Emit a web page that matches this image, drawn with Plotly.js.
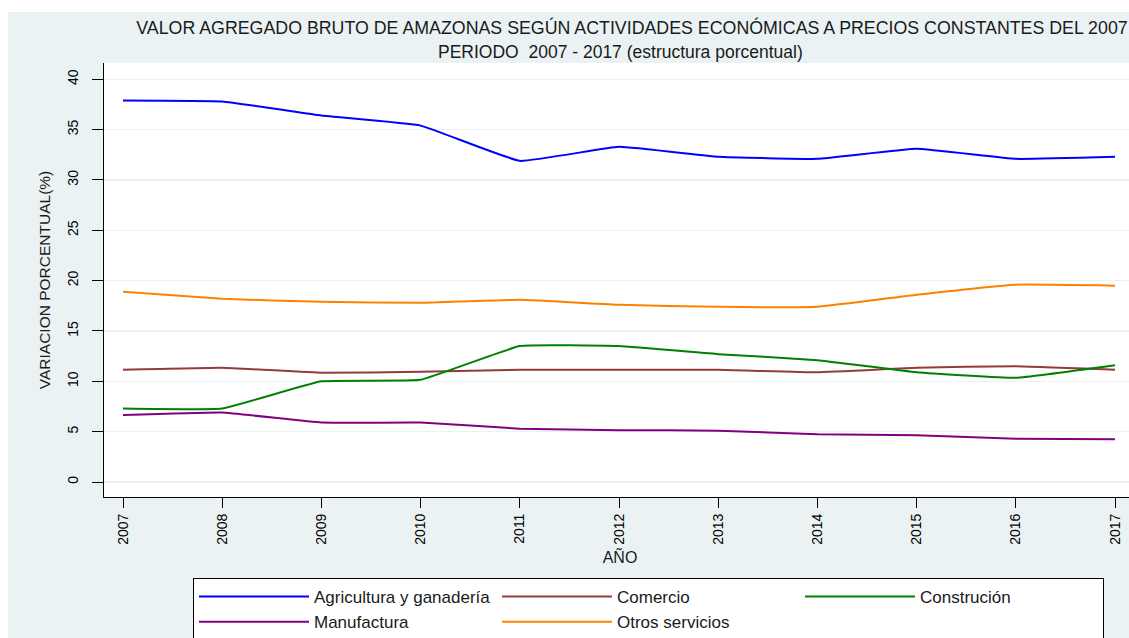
<!DOCTYPE html>
<html>
<head>
<meta charset="utf-8">
<script src="https://cdn.plot.ly/plotly-3.0.1.min.js"></script>
<style>
  html, body { margin: 0; padding: 0; background: #ffffff; overflow: hidden; width: 1129px; height: 638px; }
  #chart { position: absolute; left: 8px; top: 12px; width: 1128px; height: 626px; }
</style>
</head>
<body>
<div id="chart"></div>
<script>
var years = [2007, 2008, 2009, 2010, 2011, 2012, 2013, 2014, 2015, 2016, 2017];
var agricultura = [37.9, 37.8, 36.4, 35.4, 31.9, 33.3, 32.3, 32.1, 33.1, 32.1, 32.3];
var comercio = [11.15, 11.35, 10.85, 10.95, 11.15, 11.15, 11.15, 10.9, 11.35, 11.5, 11.15];
var construccion = [7.3, 7.3, 10.0, 10.15, 13.5, 13.5, 12.7, 12.1, 10.9, 10.35, 11.6];
var manufactura = [6.65, 6.9, 5.9, 5.9, 5.3, 5.15, 5.1, 4.75, 4.65, 4.3, 4.25];
var otros = [18.9, 18.2, 17.9, 17.8, 18.1, 17.6, 17.4, 17.4, 18.6, 19.6, 19.5];
var seriesNames = ["Agricultura y ganadería", "Comercio", "Construción", "Manufactura", "Otros servicios"];
var yTicks = [0, 5, 10, 15, 20, 25, 30, 35, 40];

var colors = ["#0000ff", "#943a3a", "#008000", "#800080", "#ff8000"];
var seriesData = [agricultura, comercio, construccion, manufactura, otros];

var traces = seriesData.map(function (vals, i) {
  return {
    x: years,
    y: vals,
    name: seriesNames[i],
    type: "scatter",
    mode: "lines",
    line: { color: colors[i], width: 2, shape: "spline", smoothing: 0.3 }
  };
});

var font = "Liberation Sans, Arial, sans-serif";

var layout = {
  width: 1128,
  height: 626,
  paper_bgcolor: "#eaf2f3",
  plot_bgcolor: "#ffffff",
  margin: { l: 96, r: 0, t: 51, b: 141, autoexpand: false },
  font: { family: font, size: 14, color: "#000000" },
  title: {
    text: "VALOR AGREGADO BRUTO DE AMAZONAS SEGÚN ACTIVIDADES ECONÓMICAS A PRECIOS CONSTANTES DEL 2007",
    x: (632 - 104) / 1032, xref: "paper", xanchor: "center",
    y: 1 - 16 / 626, yref: "container", yanchor: "middle",
    font: { family: font, size: 17.8, color: "#1a1a1a" }
  },
  annotations: [{
    text: "PERIODO  2007 - 2017 (estructura porcentual)",
    xref: "paper", yref: "paper", x: 0.5, y: 1 + 11 / 434,
    xanchor: "center", yanchor: "middle", showarrow: false,
    font: { family: font, size: 17.5, color: "#1a1a1a" }
  }],
  xaxis: {
    range: [2007 - 19 / 99.2, 2017 + 21 / 99.2],
    tickvals: years,
    ticktext: years.map(String),
    tickangle: -90,
    ticks: "outside", ticklen: 10, tickcolor: "#000000", tickwidth: 1,
    showgrid: false, zeroline: false,
    showline: true, linecolor: "#000000", linewidth: 1,
    tickfont: { family: font, size: 14, color: "#000000" },
    title: { text: "AÑO", standoff: 8, font: { family: font, size: 16, color: "#1a1a1a" } },
    automargin: false, fixedrange: true
  },
  yaxis: {
    range: [-15 / 10.0675, (482 - 63) / 10.0675],
    tickvals: yTicks,
    tickangle: -90,
    ticks: "outside", ticklen: 11, tickcolor: "#000000", tickwidth: 1,
    ticklabelstandoff: 8,
    showgrid: true, gridcolor: "#eaf2f3", gridwidth: 1.5,
    zeroline: false,
    showline: true, linecolor: "#000000", linewidth: 1,
    tickfont: { family: font, size: 14, color: "#000000" },
    title: { text: "VARIACION PORCENTUAL(%)", standoff: 10, font: { family: font, size: 15.5, color: "#1a1a1a" } },
    automargin: false, fixedrange: true
  },
  showlegend: true,
  legend: {
    orientation: "h",
    x: (193 - 104) / 1032, xanchor: "left",
    y: (497 - 578) / 434, yanchor: "top",
    bgcolor: "#ffffff",
    bordercolor: "#000000", borderwidth: 1,
    font: { family: font, size: 17, color: "#1a1a1a" },
    entrywidth: 178, entrywidthmode: "pixels",
    itemwidth: 110,
    traceorder: "normal"
  }
};

Plotly.newPlot("chart", traces, layout, { displayModeBar: false, staticPlot: true });
</script>
</body>
</html>
